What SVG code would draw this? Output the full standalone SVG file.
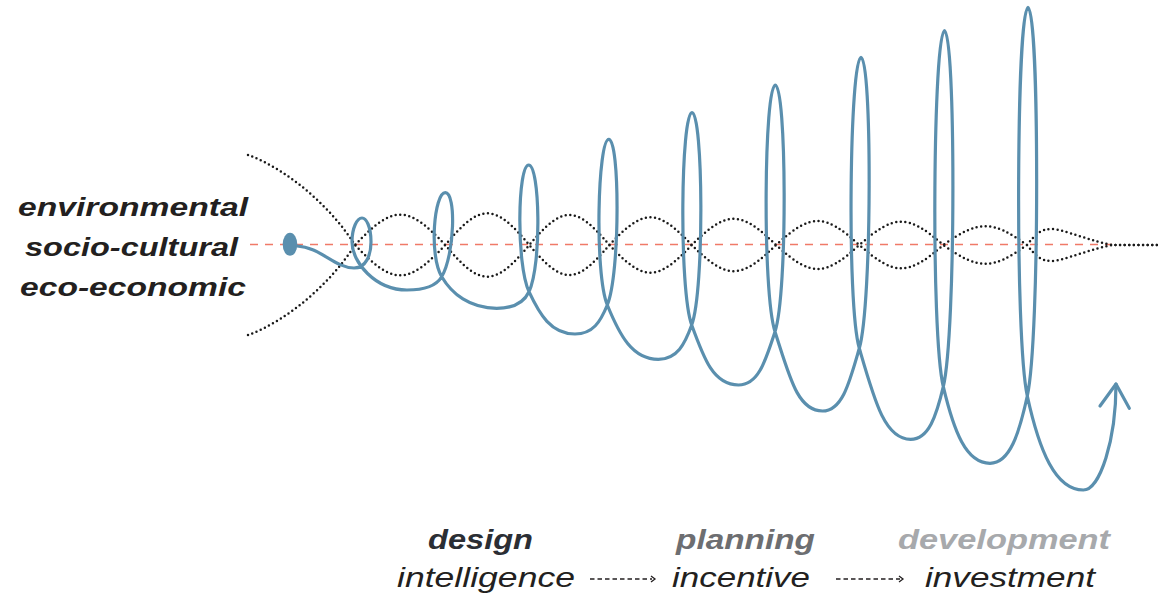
<svg xmlns="http://www.w3.org/2000/svg" width="1171" height="597" viewBox="0 0 1171 597">
<style>
.dots{fill:none;stroke:#1a1a1a;stroke-width:2.5;stroke-dasharray:0 4.6;stroke-linecap:round}
.axis{fill:none;stroke:#f07a68;stroke-width:1.5;stroke-dasharray:8 7}
.spiral{fill:none;stroke:#5a8fae;stroke-width:3.2;stroke-linecap:round;stroke-linejoin:round}
.lt{font-family:"Liberation Sans",Arial,sans-serif;font-weight:bold;font-style:italic;font-size:26px;fill:#231f20}
.bt{font-family:"Liberation Sans",Arial,sans-serif;font-weight:bold;font-style:italic;font-size:28px}
.it{font-family:"Liberation Sans",Arial,sans-serif;font-style:italic;font-size:28px;fill:#231f20}
.flow{fill:none;stroke:#231f20;stroke-width:1.3}
</style>
<rect width="1171" height="597" fill="#fff"/>
<g id="left-labels">
<text class="lt" x="18" y="216" textLength="230" lengthAdjust="spacingAndGlyphs">environmental</text>
<text class="lt" x="25" y="256" textLength="213" lengthAdjust="spacingAndGlyphs">socio-cultural</text>
<text class="lt" x="20" y="296" textLength="226" lengthAdjust="spacingAndGlyphs">eco-economic</text>
</g>
<g id="axis">
<path class="axis" d="M250 244.5H1112"/>
</g>
<g id="waves">
<path class="dots" d="M248 155C290 170 333 210 355 245C393 285.4 407.3 285.4 445.3 245C480.6 202.7 494 202.7 529.3 245C562.9 285 575.7 285 609.3 245C643.9 208.1 657.1 208.1 691.7 245C727.1 279.9 740.6 279.9 776 245C811 213 824.3 213 859.3 245C894.6 276.1 908 276.1 943.3 245C978.5 219.9 991.8 219.9 1027 245C1035 255 1040 261 1052 261C1062 261 1095 247.5 1113 245L1160 245"/>
<path class="dots" d="M248 335C290 320 333 280 355 245C393 204.6 407.3 204.6 445.3 245C480.6 287.3 494 287.3 529.3 245C562.9 205 575.7 205 609.3 245C643.9 281.9 657.1 281.9 691.7 245C727.1 210.1 740.6 210.1 776 245C811 277 824.3 277 859.3 245C894.6 213.9 908 213.9 943.3 245C978.5 270.1 991.8 270.1 1027 245C1035 235 1040 229 1052 229C1062 229 1095 242.5 1113 245L1160 245"/>
</g>
<g id="spiral">
<ellipse cx="290" cy="244.3" rx="7.3" ry="11.5" fill="#5a8fae"/>
<path class="spiral" d="M297 246C320 247 335 268 354 268C366 268 371 255 371 242C371 226 366 218 362 218C357 218 352 228 352 242C352 262 375 290 407 290C422 290 436.1 286.2 441.7 276.7C454.7 254.7 456.3 192.7 445.3 192.7C434.3 192.7 428.7 254.7 441.7 276.7C451.9 293.9 469.7 308.3 496.7 308.3C513.7 308.3 523.9 302.6 529 291.7C542 263.7 539.7 165 528.7 165C517.7 165 516 263.7 529 291.7C539.5 314.4 551 334 575 334C593 334 600.5 321.7 607.3 305C620.3 273 619.8 139.3 608.8 139.3C597.8 139.3 594.3 273 607.3 305C619.6 335.2 632.3 359.3 658.3 359.3C677.3 359.3 684.9 343.8 691.7 325C704.7 289 703 112.7 692 112.7C681 112.7 678.7 289 691.7 325C703.9 358.8 713.5 385 738.5 385C758.5 385 765.7 360.2 775 331.7C788 291.7 786.3 85 775.3 85C764.3 85 762 291.7 775 331.7C789.7 377 797.5 411 822.5 411C842.5 411 849.6 381.9 859.3 348.3C872.3 303.3 872 57.3 861 57.3C850 57.3 846.3 303.3 859.3 348.3C874.5 400.8 884.7 439.3 910.7 439.3C928.7 439.3 936.4 415.9 943.3 386.7C956.3 331.7 955.5 30.7 944.5 30.7C933.5 30.7 930.3 331.7 943.3 386.7C953.9 431.5 966 463.3 990 463.3C1010 463.3 1019.2 433.1 1027.3 396C1040.3 336 1039 7.3 1028 7.3C1017 7.3 1014.3 336 1027.3 396C1039.2 450.7 1055.3 490 1083.3 490C1100 490 1116 440 1116 384"/>
<polyline class="spiral" points="1100,406 1116,384 1129.3,408.3"/>
</g>
<g id="stage-design">
<text class="bt" x="428" y="549" fill="#2b2e34" textLength="105" lengthAdjust="spacingAndGlyphs">design</text>
<text class="it" x="397" y="587" textLength="178" lengthAdjust="spacingAndGlyphs">intelligence</text>
</g>
<g id="stage-planning">
<text class="bt" x="676" y="549" fill="#6d6e71" textLength="139" lengthAdjust="spacingAndGlyphs">planning</text>
<text class="it" x="672" y="587" textLength="138" lengthAdjust="spacingAndGlyphs">incentive</text>
</g>
<g id="stage-development">
<text class="bt" x="898" y="549" fill="#a7a9ac" textLength="212" lengthAdjust="spacingAndGlyphs">development</text>
<text class="it" x="925" y="587" textLength="170" lengthAdjust="spacingAndGlyphs">investment</text>
</g>
<g id="connectors">
<path class="flow" d="M590 579H652" stroke-dasharray="4.5 3"/>
<polyline class="flow" points="651,576 655,579 651,582"/>
<path class="flow" d="M836 579H900" stroke-dasharray="4.5 3"/>
<polyline class="flow" points="899,576 903,579 899,582"/>
</g>
</svg>
